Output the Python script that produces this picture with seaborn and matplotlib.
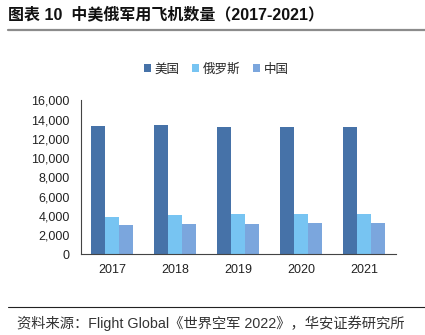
import matplotlib
matplotlib.use("Agg")
import matplotlib.pyplot as plt
import matplotlib.lines as mlines
import seaborn as sns
import pandas as pd

years = ["2017", "2018", "2019", "2020", "2021"]
countries = ["美国", "俄罗斯", "中国"]
usa = [13362, 13398, 13266, 13232, 13247]
russia = [3914, 4078, 4163, 4173, 4173]
china = [3035, 3187, 3210, 3260, 3285]
colors = ["#4672A8", "#77C4F2", "#7BA6DD"]
y_ticks = [0, 2000, 4000, 6000, 8000, 10000, 12000, 14000, 16000]

df = pd.DataFrame({
    "year": years * 3,
    "country": [countries[0]] * 5 + [countries[1]] * 5 + [countries[2]] * 5,
    "count": usa + russia + china,
})

sns.set_style("white")
plt.rcParams["font.family"] = ["Liberation Sans", "Noto Sans CJK SC"]

fig = plt.figure(figsize=(4.25, 3.35), dpi=100)
ax = fig.add_axes([0.1906, 0.2403, 0.7406, 0.4603])

sns.barplot(data=df, x="year", y="count", hue="country", hue_order=countries,
            palette=colors, width=0.667, gap=0, saturation=1, ax=ax,
            edgecolor="none", linewidth=0, legend=True)

ax.set_xlim(-0.5, 4.5)
ax.set_ylim(0, 16000)
ax.set_yticks(y_ticks)
ax.set_yticklabels([f"{v:,}" for v in y_ticks], fontsize=9, color="#222222")
ax.set_xticks(range(len(years)))
ax.set_xticklabels(years, fontsize=9, color="#222222")
ax.set_xticks([i - 0.5 for i in range(len(years) + 1)], minor=True)
ax.tick_params(axis="x", which="major", length=0, pad=7)
ax.tick_params(axis="x", which="minor", length=4, width=0.8, color="#444444", direction="out")
ax.tick_params(axis="y", which="major", length=4, width=0.8, color="#444444", direction="out", pad=4)
ax.set_xlabel("")
ax.set_ylabel("")
for side in ["top", "right"]:
    ax.spines[side].set_visible(False)
for side in ["left", "bottom"]:
    ax.spines[side].set_color("#444444")
    ax.spines[side].set_linewidth(0.8)

handles, labels = ax.get_legend_handles_labels()
ax.legend(handles, labels, loc="center", bbox_to_anchor=(0.43, 1.2), ncol=3,
          frameon=False, fontsize=9, handlelength=0.55, handleheight=0.55,
          handletextpad=0.3, columnspacing=1.0)

fig.text(0.019, 0.958, "图表 10  中美俄军用飞机数量（2017-2021）", fontsize=11.5,
         fontweight="bold", color="#111111", va="center", ha="left")
fig.add_artist(mlines.Line2D([0.019, 1.0], [0.911, 0.911], color="#8c8c8c", linewidth=1.6))
fig.add_artist(mlines.Line2D([0.019, 1.0], [0.084, 0.084], color="#222222", linewidth=0.8))
fig.text(0.04, 0.036, "资料来源：Flight Global《世界空军 2022》，华安证券研究所", fontsize=10.3,
         color="#333333", va="center", ha="left")

fig.savefig("out.png", dpi=100)
